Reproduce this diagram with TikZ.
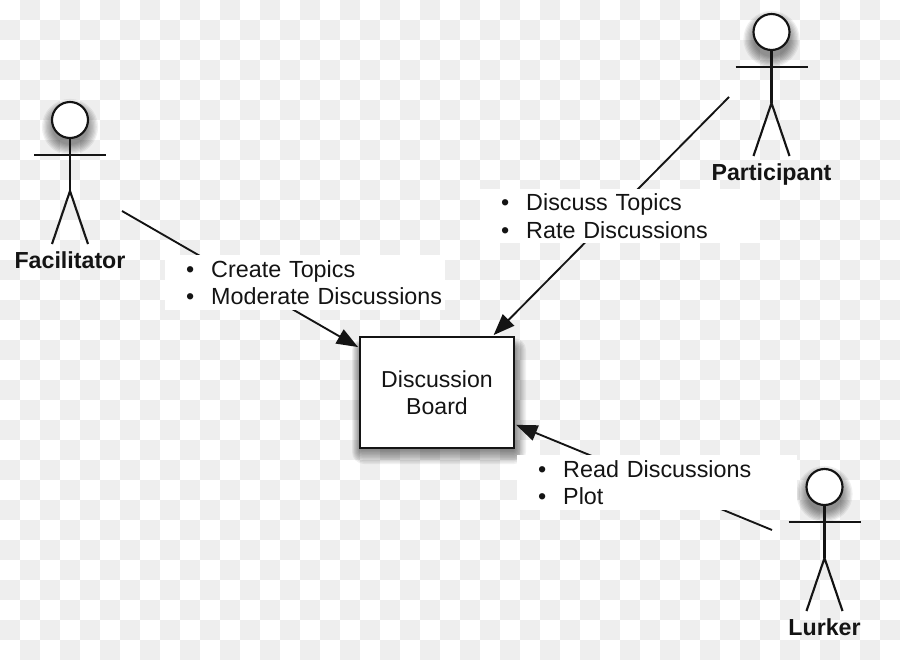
\documentclass[tikz,border=0pt]{standalone}
\usepackage{fontspec}
\setmainfont{Liberation Sans}
\usetikzlibrary{arrows.meta}
\definecolor{tile}{HTML}{EEEEEE}
\definecolor{ink}{HTML}{141414}
\tikzset{
  x=0.75pt, y=-0.75pt,
  limb/.style={draw=ink, line width=1.6pt, line cap=butt},
  headdisc/.style={circle, draw=ink, fill=white, line width=1.6pt, minimum size=27pt, inner sep=0pt},
  boardbox/.style={rectangle, draw=ink, fill=white, line width=1.7pt, minimum width=115pt, minimum height=83pt,
    inner sep=0pt, align=center, font=\fontsize{17.3pt}{20.6pt}\selectfont, text=ink},
  rolelabel/.style={font=\bfseries\fontsize{17.4pt}{20pt}\selectfont, text=ink, inner sep=0pt, anchor=base},
  dutylist/.style={rectangle, fill=white, anchor=north west, inner sep=0pt, text width=210pt, minimum height=41pt,
    align=left, font=\fontsize{17.5pt}{20.4pt}\selectfont, text=ink},
  flow/.style={draw=ink, line width=1.4pt, shorten >=1pt, -{Triangle[length=16pt,width=12pt]}},
}
% one bulleted row of a duty list
\newcommand{\dutyrow}[1]{\hspace*{15.6pt}\makebox[18.9pt][l]{•}#1}
% stick figure: head centre at (#2,#3), with a soft shadow below the head
\newcommand{\stickfigure}[4]{
  \foreach \g in {1,...,9}
    \fill[black, opacity=0.06] (#2,#3+7) circle[radius=12.5pt+\g*0.95pt];
  \node[headdisc] (#1head) at (#2,#3) {};
  \coordinate (#1hip) at (#2,#3+71);
  \draw[limb] (#1head.south) -- (#1hip);
  \draw[limb] (#2-36,#3+35) -- (#2+36,#3+35);
  \draw[limb] (#2-18,#3+124) -- (#1hip) -- (#2+18,#3+124);
  \node[rolelabel] (#1name) at (#2,#3+148) {#4};
}
\begin{document}
\begin{tikzpicture}
\useasboundingbox (0,0) rectangle (900,660);
\fill[white] (0,0) rectangle (900,660);
% chequered backdrop
\foreach \c in {0,...,44}
  \foreach \r in {0,...,32} {
    \pgfmathtruncatemacro{\odd}{mod(\c+\r,2)}
    \ifnum\odd=1
      \fill[tile] (\c*20,\r*20) rectangle (\c*20+20,\r*20+20);
    \fi
  }

% soft shadow of the board
\foreach \g in {1,...,10}
  \fill[black, opacity=0.055, rounded corners=\g*0.9pt]
    (361-\g*0.9,348-\g*1.0) rectangle (513+\g*1.3,449+\g*1.5);
\node[boardbox] (board) at (437,392.5) {Discussion\\Board};

% actors
\stickfigure{fac}{70}{120}{Facilitator}
\stickfigure{par}{771.5}{32}{Participant}
\stickfigure{lur}{824.5}{487}{Lurker}

% free ends of the connectors, next to each actor
\coordinate (facEnd) at (122,211);
\coordinate (parEnd) at (729,97);
\coordinate (lurEnd) at (772,530);

\draw[flow] (facEnd) -- (board);
\draw[flow] (parEnd) -- (board);
\draw[flow] (lurEnd) -- (board);

% duty lists sit on top of the connectors
\node[dutylist] (facDuties) at (165,255) {\dutyrow{Create Topics}\\\dutyrow{Moderate Discussions}};
\node[dutylist] (parDuties) at (480,188.5) {\dutyrow{Discuss Topics}\\\dutyrow{Rate Discussions}};
\node[dutylist] (lurDuties) at (517,455) {\dutyrow{Read Discussions}\\\dutyrow{Plot}};
\end{tikzpicture}
\end{document}
